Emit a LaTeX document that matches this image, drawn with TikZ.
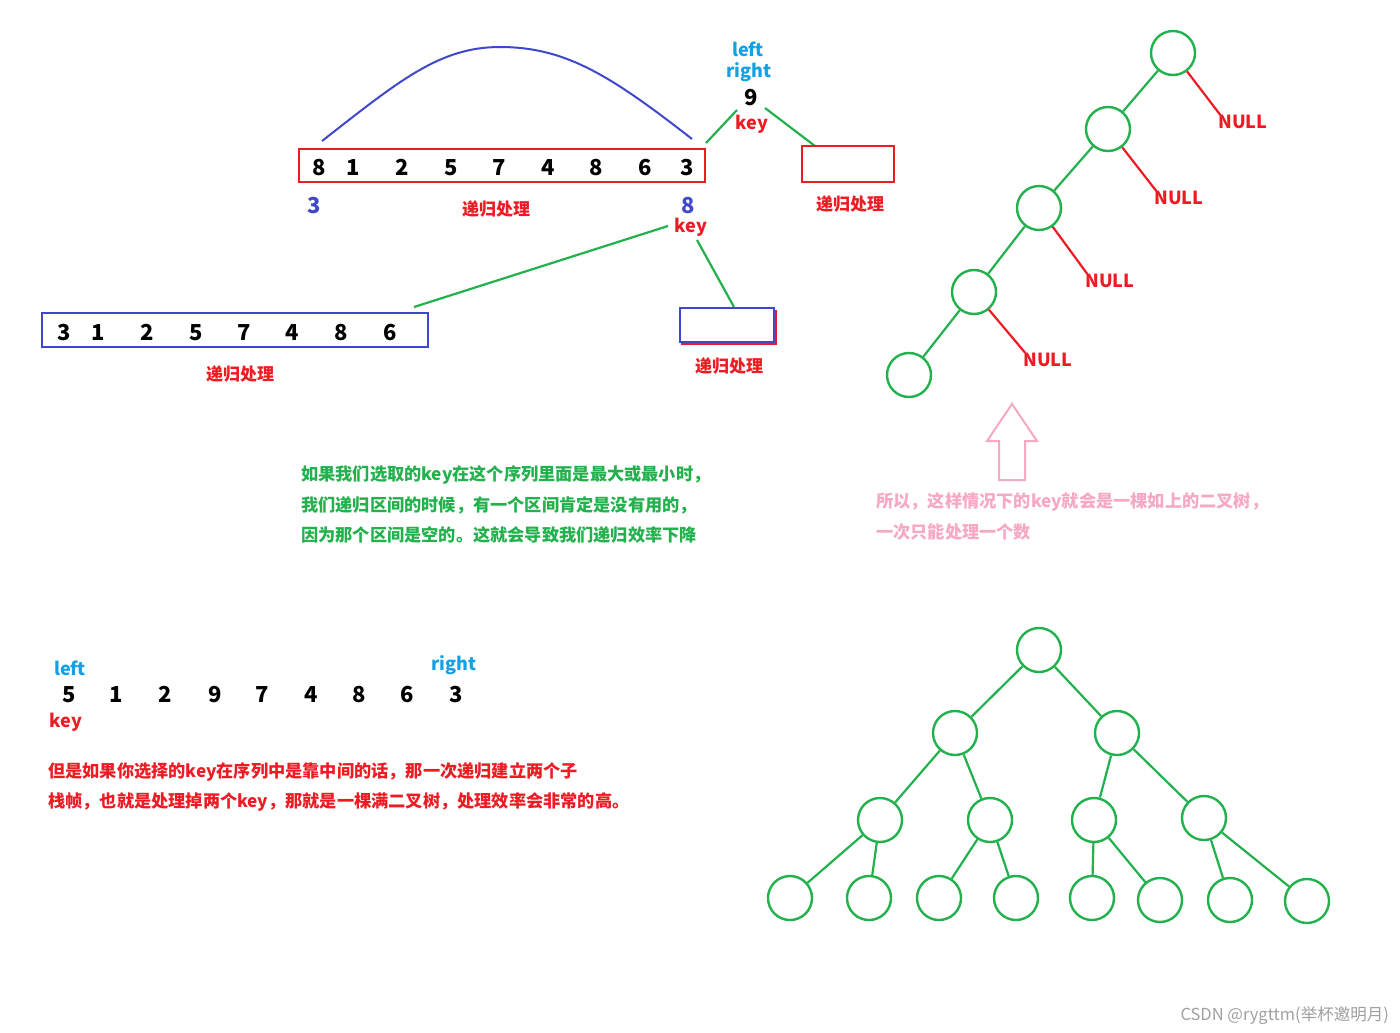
\documentclass[tikz,border=0pt]{standalone}
\usepackage{fontspec}
\setmainfont{Noto Sans CJK SC}
\definecolor{pgreen}{HTML}{22B14C}
\definecolor{pred}{HTML}{ED1C24}
\definecolor{pblue}{HTML}{3F48CC}
\definecolor{pcyan}{HTML}{14A0E4}
\definecolor{ppink}{HTML}{F7A8C4}
\definecolor{wgray}{HTML}{A0A0A0}
\begin{document}
\begin{tikzpicture}[x=1pt,y=-1pt,
  num/.style={font=\bfseries\fontsize{22}{22}\selectfont, inner sep=0, text height=16pt, text depth=0pt},
  lab/.style={font=\bfseries\fontsize{18}{18}\selectfont, inner sep=0},
  cn/.style={font=\bfseries\fontsize{17}{17}\selectfont, inner sep=0},
  line/.style={anchor=west, font=\bfseries\fontsize{17.2}{17}\selectfont, inner sep=0},
  circ/.style={circle, draw=pgreen, line width=2.4pt, minimum size=44pt, inner sep=0},
  gl/.style={draw=pgreen, line width=2.2pt},
  rl/.style={draw=pred, line width=2.2pt},
  box/.style={line width=2.2pt, inner sep=0}]
\useasboundingbox[fill=white] (0,0) rectangle (1400,1033);

% ---------- top array ----------
\node[box, draw=pred, minimum width=406pt, minimum height=33pt] (arr1) at (502,165.5) {};
\foreach \v/\x [count=\i] in {8/319,1/353,2/402,5/451,7/499,4/548,8/596,6/645,3/687}
  \node[num] (a\i) at (\x,167) {\v};
\coordinate (arcL) at (322,141);
\coordinate (arcR) at (692,139);
\draw[draw=pblue, line width=2pt] (arcL) .. controls (400,80) and (440,47) .. (500,47)
   .. controls (565,47) and (610,75) .. (arcR);
\node[lab, text=pcyan] (left1) at (748,49) {left};
\node[lab, text=pcyan] (right1) at (749,72) {right};
\node[num] (nine) at (751,97) {9};
\node[lab, text=pred] (key1) at (752,124) {key};
\coordinate (g1a) at (737,110); \coordinate (g1b) at (706,143);
\coordinate (g2a) at (765,108); \coordinate (g2b) at (815,146);
\draw[gl] (g1a) -- (g1b);
\draw[gl] (g2a) -- (g2b);
\node[box, draw=pred, minimum width=92pt, minimum height=36pt] (rb1) at (848,164) {};
\node[cn, text=pred] (rec1) at (850,204) {递归处理};
\node[num, text=pblue] (b3) at (314,205) {3};
\node[cn, text=pred] (rec2) at (496,209) {递归处理};
\node[num, text=pblue] (b8) at (688,205) {8};
\node[lab, text=pred] (key2) at (691,227) {key};
\coordinate (g3a) at (668,226); \coordinate (g3b) at (414,307);
\coordinate (g4a) at (697,240); \coordinate (g4b) at (734,307);
\draw[gl] (g3a) -- (g3b);
\draw[gl] (g4a) -- (g4b);

% ---------- second array ----------
\node[box, draw=pblue, minimum width=386pt, minimum height=34pt] (arr2) at (235,330) {};
\foreach \v/\x [count=\i] in {3/64,1/98,2/147,5/196,7/244,4/292,8/341,6/390}
  \node[num] (c\i) at (\x,332) {\v};
\node[cn, text=pred] (rec3) at (240,374) {递归处理};
\coordinate (sbA) at (776,310); \coordinate (sbB) at (776,344); \coordinate (sbC) at (681,344);
\draw[draw=pred, line width=2pt] (sbA) -- (sbB) -- (sbC);
\node[box, draw=pblue, minimum width=94pt, minimum height=34pt] (sb) at (727,325) {};
\node[cn, text=pred] (rec4) at (729,366) {递归处理};

% ---------- degenerate tree ----------
\node[circ] (t1) at (1173,53) {};
\node[circ] (t2) at (1108,129) {};
\node[circ] (t3) at (1039,208) {};
\node[circ] (t4) at (974,292) {};
\node[circ] (t5) at (909,375) {};
\draw[gl] (t1) -- (t2);
\draw[gl] (t2) -- (t3);
\draw[gl] (t3) -- (t4);
\draw[gl] (t4) -- (t5);
\node[lab, text=pred] (n1) at (1243,122) {NULL};
\node[lab, text=pred] (n2) at (1179,198) {NULL};
\node[lab, text=pred] (n3) at (1110,281) {NULL};
\node[lab, text=pred] (n4) at (1048,360) {NULL};
\draw[rl] (t1) -- ([xshift=2pt]n1.north west);
\draw[rl] (t2) -- ([xshift=2pt]n2.north west);
\draw[rl] (t3) -- ([xshift=2pt]n3.north west);
\draw[rl] (t4) -- ([xshift=2pt]n4.north west);

% ---------- pink arrow + text ----------
\draw[draw=ppink, line width=2pt, line join=miter] (1012,404) -- (1037,441) -- (1025,441) -- (1025,480)
  -- (999,480) -- (999,441) -- (987,441) -- cycle;
\node[line, text=ppink] (pk1) at (876,502) {所以，这样情况下的key就会是一棵如上的二叉树，};
\node[line, text=ppink] (pk2) at (876,532) {一次只能处理一个数};

% ---------- green paragraph ----------
\node[line, text=pgreen] (gp1) at (301,475) {如果我们选取的key在这个序列里面是最大或最小时，};
\node[line, text=pgreen] (gp2) at (301,505) {我们递归区间的时候，有一个区间肯定是没有用的，};
\node[line, text=pgreen] (gp3) at (301,535) {因为那个区间是空的。这就会导致我们递归效率下降};

% ---------- bottom sequence ----------
\node[lab, text=pcyan] (left2) at (70,668) {left};
\node[lab, text=pcyan] (right2) at (454,665) {right};
\foreach \v/\x [count=\i] in {5/69,1/116,2/165,9/215,7/262,4/311,8/359,6/407,3/456}
  \node[num] (s\i) at (\x,694) {\v};
\node[lab, text=pred] (key3) at (66,722) {key};
\node[line, text=pred] (rp1) at (48,772) {但是如果你选择的key在序列中是靠中间的话，那一次递归建立两个子};
\node[line, text=pred] (rp2) at (48,802) {栈帧，也就是处理掉两个key，那就是一棵满二叉树，处理效率会非常的高。};

% ---------- full binary tree ----------
\node[circ] (r) at (1039,650) {};
\node[circ] (l1) at (955,733) {};
\node[circ] (l2) at (1117,733) {};
\node[circ] (m1) at (880,820) {};
\node[circ] (m2) at (990,820) {};
\node[circ] (m3) at (1094,820) {};
\node[circ] (m4) at (1204,818) {};
\foreach \x/\y [count=\i] in {790/898,869/898,939/898,1016/898,1092/898,1160/900,1230/900,1307/901}
  \node[circ] (f\i) at (\x,\y) {};
\draw[gl] (r) -- (l1);
\draw[gl] (r) -- (l2);
\draw[gl] (l1) -- (m1);
\draw[gl] (l1) -- (m2);
\draw[gl] (l2) -- (m3);
\draw[gl] (l2) -- (m4);
\draw[gl] (m1) -- (f1);
\draw[gl] (m1) -- (f2);
\draw[gl] (m2) -- (f3);
\draw[gl] (m2) -- (f4);
\draw[gl] (m3) -- (f5);
\draw[gl] (m3) -- (f6);
\draw[gl] (m4) -- (f7);
\draw[gl] (m4) -- (f8);

% ---------- watermark ----------
\node[anchor=east, inner sep=0, text=wgray, font=\fontsize{16.5}{16.5}\selectfont] (wm) at (1389,1016) {CSDN @rygttm(举杯邀明月)};
\end{tikzpicture}
\end{document}
